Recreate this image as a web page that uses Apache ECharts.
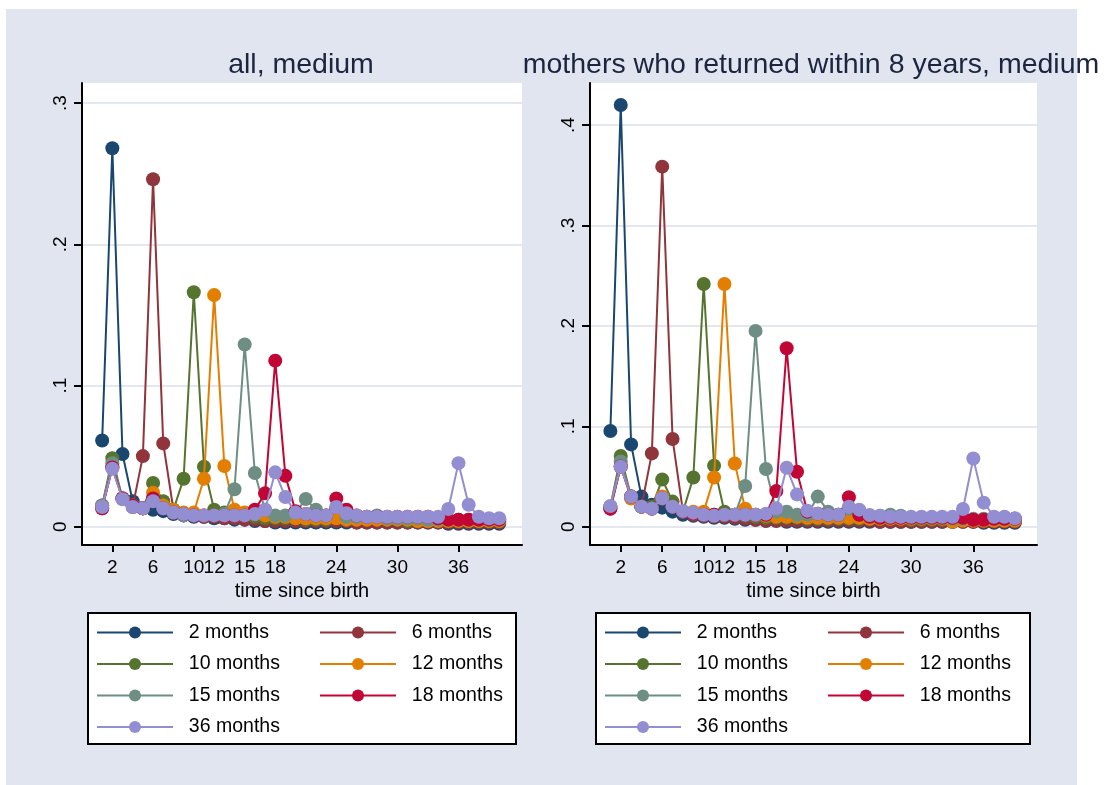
<!DOCTYPE html>
<html><head><meta charset="utf-8">
<script src="https://cdn.jsdelivr.net/npm/echarts@6/dist/echarts.min.js"></script>
<style>html,body{margin:0;padding:0;background:#fff}#c{width:1109px;height:785px}</style>
</head><body><div id="c"></div><script>
// ---------- data ----------
const time = [1,2,3,4,5,6,7,8,9,10,11,12,13,14,15,16,17,18,19,20,21,22,23,24,25,26,27,28,29,30,31,32,33,34,35,36,37,38,39,40];
const seriesNames = ['2 months','6 months','10 months','12 months','15 months','18 months','36 months'];
const colors = ['#1a476f','#90353b','#55752f','#e37e00','#6e8e84','#c10534','#938dd2'];

// panel 1: all, medium
const all_2m  = [0.061,0.268,0.0515,0.018,0.013,0.012,0.011,0.009,0.008,0.007,0.007,0.006,0.006,0.005,0.005,0.004,0.004,0.003,0.003,0.003,0.003,0.003,0.003,0.003,0.003,0.003,0.003,0.003,0.003,0.003,0.003,0.003,0.003,0.003,0.002,0.002,0.002,0.002,0.002,0.002];
const all_6m  = [0.013,0.042,0.02,0.014,0.05,0.246,0.059,0.012,0.009,0.008,0.007,0.007,0.006,0.006,0.005,0.005,0.004,0.004,0.004,0.004,0.004,0.004,0.004,0.004,0.004,0.003,0.003,0.003,0.003,0.003,0.003,0.003,0.003,0.003,0.003,0.003,0.003,0.003,0.003,0.003];
const all_10m = [0.015,0.0485,0.02,0.015,0.013,0.031,0.018,0.012,0.034,0.166,0.0425,0.012,0.01,0.009,0.008,0.007,0.006,0.006,0.006,0.006,0.005,0.005,0.005,0.006,0.005,0.005,0.005,0.005,0.005,0.005,0.004,0.004,0.004,0.004,0.004,0.004,0.004,0.004,0.004,0.004];
const all_12m = [0.015,0.043,0.02,0.015,0.013,0.024,0.015,0.012,0.01,0.01,0.034,0.164,0.043,0.012,0.01,0.009,0.008,0.007,0.007,0.006,0.006,0.006,0.006,0.006,0.005,0.005,0.005,0.005,0.005,0.005,0.005,0.004,0.004,0.004,0.004,0.004,0.004,0.004,0.004,0.004];
const all_15m = [0.015,0.045,0.02,0.015,0.013,0.02,0.013,0.01,0.008,0.008,0.008,0.008,0.009,0.0265,0.129,0.038,0.012,0.008,0.008,0.01,0.0196,0.012,0.008,0.014,0.007,0.007,0.007,0.008,0.006,0.006,0.006,0.006,0.005,0.005,0.005,0.005,0.005,0.005,0.005,0.005];
const all_18m = [0.013,0.042,0.02,0.015,0.013,0.02,0.013,0.01,0.009,0.008,0.008,0.008,0.008,0.008,0.008,0.012,0.0236,0.1176,0.036,0.011,0.009,0.008,0.008,0.02,0.012,0.008,0.007,0.007,0.007,0.007,0.007,0.007,0.007,0.006,0.005,0.005,0.005,0.005,0.005,0.005];
const all_36m = [0.014,0.041,0.0194,0.014,0.013,0.018,0.013,0.01,0.009,0.008,0.008,0.008,0.008,0.008,0.008,0.009,0.012,0.0385,0.021,0.01,0.009,0.008,0.008,0.014,0.0095,0.008,0.007,0.007,0.007,0.007,0.007,0.007,0.007,0.007,0.0125,0.045,0.0155,0.007,0.006,0.006];

// panel 2: mothers who returned within 8 years, medium
const ret_2m  = [0.0953,0.42,0.082,0.03,0.022,0.019,0.015,0.012,0.011,0.01,0.009,0.009,0.008,0.007,0.007,0.006,0.006,0.005,0.005,0.005,0.005,0.005,0.005,0.005,0.005,0.005,0.005,0.005,0.005,0.005,0.005,0.005,0.005,0.005,0.005,0.005,0.004,0.004,0.004,0.004];
const ret_6m  = [0.018,0.06,0.03,0.02,0.073,0.3586,0.0873,0.015,0.012,0.011,0.01,0.01,0.009,0.008,0.007,0.006,0.006,0.006,0.006,0.006,0.006,0.006,0.006,0.006,0.006,0.006,0.005,0.005,0.005,0.005,0.005,0.005,0.005,0.005,0.005,0.005,0.005,0.005,0.005,0.005];
const ret_10m = [0.02,0.0704,0.03,0.02,0.02,0.047,0.025,0.015,0.049,0.2417,0.0608,0.015,0.012,0.011,0.01,0.009,0.009,0.009,0.009,0.008,0.008,0.008,0.008,0.008,0.008,0.008,0.008,0.008,0.008,0.007,0.007,0.007,0.007,0.007,0.007,0.007,0.007,0.007,0.007,0.007];
const ret_12m = [0.02,0.06,0.028,0.02,0.018,0.03,0.02,0.015,0.015,0.015,0.049,0.2417,0.063,0.018,0.012,0.011,0.01,0.01,0.01,0.009,0.009,0.009,0.009,0.009,0.009,0.008,0.008,0.008,0.008,0.008,0.008,0.008,0.008,0.005,0.006,0.006,0.006,0.006,0.006,0.006];
const ret_15m = [0.02,0.065,0.03,0.02,0.018,0.028,0.02,0.015,0.013,0.012,0.012,0.012,0.012,0.0405,0.195,0.0575,0.015,0.015,0.012,0.012,0.03,0.015,0.012,0.018,0.012,0.011,0.011,0.012,0.011,0.009,0.009,0.009,0.009,0.008,0.008,0.008,0.008,0.008,0.008,0.008];
const ret_18m = [0.018,0.06,0.03,0.02,0.018,0.028,0.02,0.015,0.013,0.012,0.012,0.012,0.012,0.012,0.012,0.012,0.0355,0.1777,0.0548,0.015,0.013,0.012,0.012,0.0293,0.012,0.01,0.009,0.009,0.009,0.009,0.009,0.009,0.009,0.009,0.009,0.007,0.007,0.008,0.008,0.008];
const ret_36m = [0.0206,0.0598,0.03,0.02,0.018,0.0283,0.02,0.0156,0.014,0.012,0.011,0.012,0.012,0.012,0.012,0.013,0.0183,0.0588,0.0322,0.016,0.013,0.012,0.012,0.02,0.017,0.0117,0.011,0.01,0.01,0.01,0.01,0.01,0.01,0.01,0.0176,0.068,0.024,0.01,0.01,0.0084];

const xTicks = [2,6,10,12,15,18,24,30,36];
const yTicksAll = [0,0.1,0.2,0.3];
const yLabelsAll = ['0','.1','.2','.3'];
const yTicksRet = [0,0.1,0.2,0.3,0.4];
const yLabelsRet = ['0','.1','.2','.3','.4'];
const titles = ['all, medium','mothers who returned within 8 years, medium'];
const xTitle = 'time since birth';
const legendCol1 = ['2 months','10 months','15 months','36 months'];
const legendCol2 = ['6 months','12 months','18 months'];

// ---------- chart ----------
const FONT = '"Liberation Sans", Arial, sans-serif';
const panels = [
  {vals:[all_2m,all_6m,all_10m,all_12m,all_15m,all_18m,all_36m], yT:yTicksAll, yL:yLabelsAll,
   grid:{left:82,top:83,width:440,height:462}, xmin:-0.98, xmax:42.24, ymin:-0.01296, ymax:0.3142, tx:301, lx:96, box:[88,613,428,131]},
  {vals:[ret_2m,ret_6m,ret_10m,ret_12m,ret_15m,ret_18m,ret_36m], yT:yTicksRet, yL:yLabelsRet,
   grid:{left:590,top:83,width:447,height:462}, xmin:-0.964, xmax:42.14, ymin:-0.0182, ymax:0.4419, tx:811, lx:604, box:[596,613,434,131]}
];

const grids=[], xAxes=[], yAxes=[], series=[], legends=[], graphics=[];
graphics.push({type:'rect', z:-100, shape:{x:6,y:9,width:1071,height:776}, style:{fill:'#e1e5ef'}});
panels.forEach((p, pi) => {
  grids.push(Object.assign({show:true, backgroundColor:'#fff', borderWidth:0}, p.grid));
  xAxes.push({type:'value', gridIndex:pi, min:p.xmin, max:p.xmax,
    axisLine:{show:true, onZero:false, lineStyle:{color:'#000', width:2}},
    axisTick:{show:true, customValues:xTicks, length:7, lineStyle:{color:'#000', width:2}},
    axisLabel:{customValues:xTicks, fontSize:19, color:'#000', margin:13, fontFamily:FONT},
    splitLine:{show:false},
    name:xTitle, nameLocation:'middle', nameGap:35, nameTextStyle:{fontSize:20, color:'#000', fontFamily:FONT}});
  yAxes.push({type:'value', gridIndex:pi, min:p.ymin, max:p.ymax,
    axisLine:{show:true, onZero:false, lineStyle:{color:'#000', width:2}},
    axisTick:{show:true, customValues:p.yT, length:8, lineStyle:{color:'#000', width:2}},
    axisLabel:{customValues:p.yT, rotate:90, fontSize:19, color:'#000', margin:12, fontFamily:FONT,
      formatter:(v)=>{const k=p.yT.findIndex(t=>Math.abs(t-v)<1e-9); return k>=0?p.yL[k]:'';}},
    splitLine:{show:true, lineStyle:{color:'#e3e7f0', width:2}}});
  p.vals.forEach((arr, i) => {
    series.push({type:'line', name:seriesNames[i], xAxisIndex:pi, yAxisIndex:pi,
      data:time.map((t,k)=>[t, arr[k]]), symbol:'circle', symbolSize:14, showSymbol:true,
      lineStyle:{width:2, color:colors[i]}, itemStyle:{color:colors[i]}, z:2+i, animation:false});
  });
  graphics.push({type:'text', x:p.tx, y:65, style:{text:titles[pi], font:'28.5px '+FONT, fill:'#1c2540', align:'center', verticalAlign:'middle'}});
  const b = p.box;
  graphics.push({type:'rect', z:1, shape:{x:b[0],y:b[1],width:b[2],height:b[3]}, style:{fill:'#fff', stroke:'#000', lineWidth:2}});
  [legendCol1, legendCol2].forEach((col, ci) => {
    legends.push({data:col, orient:'vertical', left:p.lx + ci*223, top:622.5, padding:0,
      itemWidth:76, itemHeight:15, itemGap:11.5, selectedMode:false,
      formatter:(n)=>'  '+n,
      textStyle:{fontSize:19.5, color:'#000', fontFamily:FONT}});
  });
});

const chart = echarts.init(document.getElementById('c'), null, {renderer:'canvas'});
chart.setOption({
  animation:false, backgroundColor:'#fff',
  textStyle:{fontFamily:FONT},
  grid:grids, xAxis:xAxes, yAxis:yAxes, series:series, legend:legends, graphic:graphics
});
</script></body></html>
